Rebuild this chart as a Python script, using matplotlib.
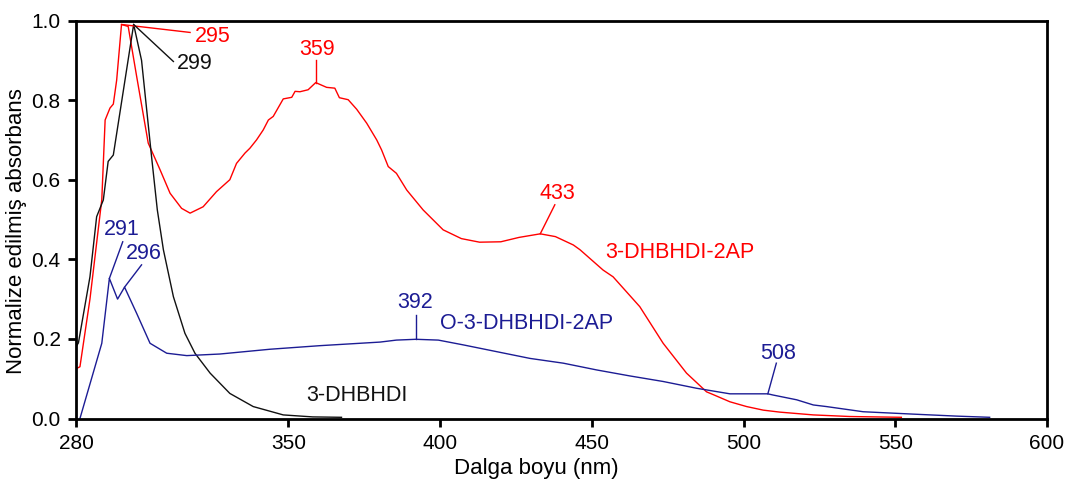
import matplotlib
matplotlib.use("Agg")
import matplotlib.pyplot as plt

plt.rcParams['font.family'] = ['Liberation Sans', 'DejaVu Sans']

# 3-DHBHDI (black)
wl_dhbhdi = [280.0, 280.8, 284.6, 286.8, 289.0, 290.6, 292.3, 299.0, 301.6, 304.9,
             306.8, 308.8, 312.1, 315.9, 319.2, 324.2, 330.7, 338.4, 348.3, 358.0, 367.5]
abs_dhbhdi = [0.18, 0.19, 0.356, 0.507, 0.549, 0.646, 0.662, 0.99, 0.90, 0.658,
              0.524, 0.424, 0.306, 0.214, 0.164, 0.114, 0.063, 0.030, 0.009, 0.004, 0.003]

# 3-DHBHDI-2AP (red)
wl_2ap = [280.0, 281.3, 284.6, 288.5, 289.6, 291.2, 292.3, 293.4, 295.0, 297.2,
          300.0, 303.8, 307.7, 311.0, 314.8, 317.6, 321.9, 326.3, 330.7, 332.9,
          335.7, 337.3, 339.5, 341.7, 343.4, 345.0, 348.3, 351.1, 352.2, 353.8,
          356.5, 359.0, 362.6, 365.3, 366.8, 369.7, 372.5, 375.8, 379.1, 380.7,
          382.9, 385.6, 389.0, 394.4, 401.0, 407.0, 413.0, 420.0, 426.0, 433.0,
          438.0, 443.9, 446.1, 453.7, 457.0, 465.8, 473.5, 481.2, 487.8, 490.0,
          495.5, 501.0, 506.5, 512.0, 523.0, 535.0, 552.0]
abs_2ap = [0.125, 0.13, 0.30, 0.55, 0.75, 0.78, 0.79, 0.85, 0.99, 0.985,
           0.859, 0.692, 0.625, 0.566, 0.528, 0.516, 0.532, 0.570, 0.600, 0.641,
           0.667, 0.679, 0.700, 0.725, 0.750, 0.759, 0.803, 0.807, 0.822, 0.821,
           0.826, 0.844, 0.832, 0.830, 0.806, 0.801, 0.777, 0.742, 0.700, 0.675,
           0.633, 0.616, 0.574, 0.524, 0.474, 0.452, 0.443, 0.444, 0.455, 0.464,
           0.457, 0.436, 0.424, 0.373, 0.356, 0.281, 0.189, 0.114, 0.067, 0.060,
           0.042, 0.030, 0.021, 0.016, 0.009, 0.005, 0.003]

# O-3-DHBHDI-2AP (blue)
wl_o2ap = [281.3, 288.5, 291.0, 293.7, 296.0, 300.0, 304.4, 309.9, 316.5, 327.4,
           343.9, 360.4, 380.2, 385.6, 392.0, 399.4, 407.6, 418.6, 429.6, 440.6,
           451.6, 462.5, 473.5, 484.5, 495.5, 508.0, 509.7, 517.5, 523.0, 527.3,
           539.4, 555.9, 570.2, 581.1]
abs_o2ap = [0.0, 0.189, 0.352, 0.300, 0.330, 0.264, 0.189, 0.164, 0.158, 0.162,
            0.174, 0.183, 0.192, 0.197, 0.199, 0.197, 0.185, 0.168, 0.151, 0.139,
            0.122, 0.107, 0.093, 0.076, 0.062, 0.062, 0.059, 0.047, 0.034, 0.030,
            0.017, 0.011, 0.006, 0.003]

x_ticks = [280, 350, 400, 450, 500, 550, 600]
y_ticks = [0.0, 0.2, 0.4, 0.6, 0.8, 1.0]

RED = '#ff0000'
BLUE = '#1c1c94'
BLACK = '#111111'
LABEL_FS = 15.5

fig = plt.figure(figsize=(10.65, 4.88), dpi=100)
ax = fig.add_axes([76 / 1065, 1 - 418.5 / 488, (1047 - 76) / 1065, (418.5 - 20.5) / 488])

ax.plot(wl_2ap, abs_2ap, color=RED, lw=1.0)
ax.plot(wl_dhbhdi, abs_dhbhdi, color=BLACK, lw=1.0)
ax.plot(wl_o2ap, abs_o2ap, color=BLUE, lw=1.0)

ax.set_xlim(280, 600)
ax.set_ylim(0, 1.0)
ax.set_xticks(x_ticks)
ax.set_yticks(y_ticks)
ax.set_yticklabels([f"{v:.1f}" for v in y_ticks])
ax.tick_params(direction='out', length=6, width=2.0, labelsize=15, pad=5)
for s in ax.spines.values():
    s.set_linewidth(2.0)

ax.set_xlabel("Dalga boyu (nm)", fontsize=16)
ax.xaxis.set_label_coords(0.474, -0.098)
ax.set_ylabel("Normalize edilmiş absorbans", fontsize=16)
ax.yaxis.set_label_coords(-0.050, 0.47)

def peak_label(text, xy, line_end, text_pos, color, ha='center'):
    ax.plot([xy[0], line_end[0]], [xy[1], line_end[1]], color=color, lw=1.0)
    ax.text(text_pos[0], text_pos[1], text, color=color, fontsize=LABEL_FS,
            ha=ha, va='center')

peak_label("295", (295, 0.99), (317.6, 0.970), (319.2, 0.961), RED, ha='left')
peak_label("299", (299, 0.99), (312.1, 0.897), (313.2, 0.893), BLACK, ha='left')
peak_label("359", (359, 0.844), (359, 0.901), (359.3, 0.926), RED)
peak_label("433", (433, 0.464), (437.8, 0.537), (438.6, 0.566), RED)
peak_label("291", (291, 0.352), (295.4, 0.444), (295.1, 0.474), BLUE)
peak_label("296", (296, 0.330), (301.6, 0.386), (302.2, 0.415), BLUE)
peak_label("392", (392, 0.199), (392, 0.260), (391.9, 0.292), BLUE)
peak_label("508", (508, 0.062), (510.8, 0.139), (511.4, 0.164), BLUE)

ax.text(454.3, 0.416, "3-DHBHDI-2AP", color=RED, fontsize=LABEL_FS, ha='left', va='center')
ax.text(399.9, 0.239, "O-3-DHBHDI-2AP", color=BLUE, fontsize=LABEL_FS, ha='left', va='center')
ax.text(356.0, 0.059, "3-DHBHDI", color=BLACK, fontsize=LABEL_FS, ha='left', va='center')

fig.savefig("out.png", dpi=100)
